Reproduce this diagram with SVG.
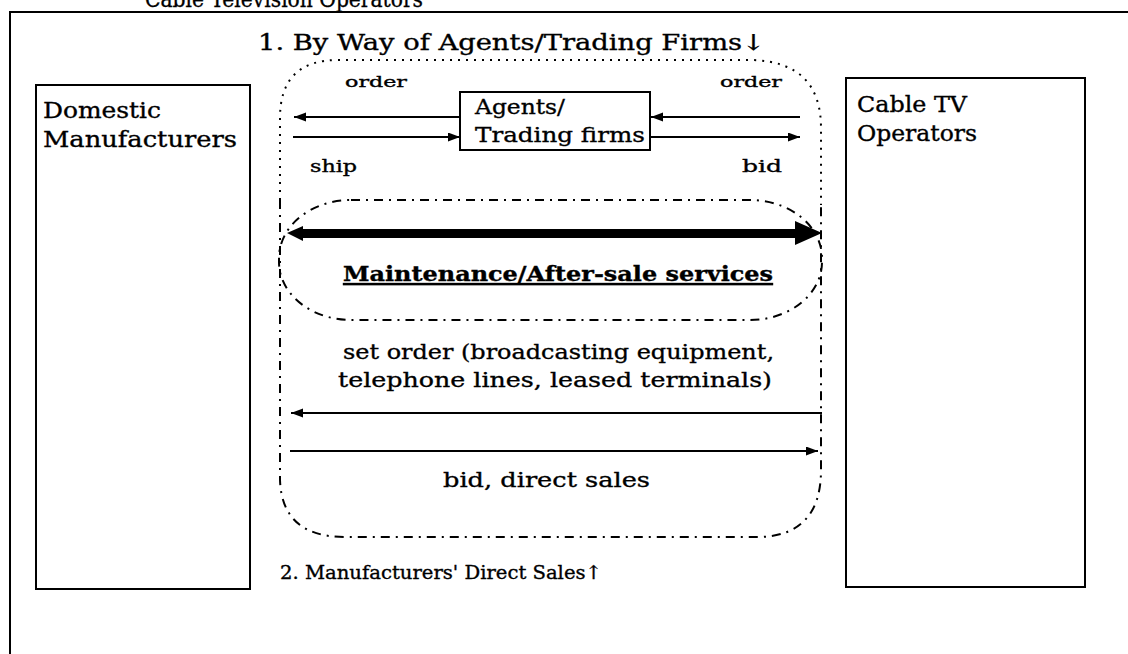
<svg xmlns="http://www.w3.org/2000/svg" width="1128" height="654" viewBox="0 0 1128 654">
  <style>
    .t { font-family: "DejaVu Serif", "Liberation Serif", serif; fill: #000; stroke: #000; stroke-width: 0.35; }
    .big { font-size: 21px; }
    .mid { font-size: 17px; }
    .sm { font-size: 15px; }
    .box { fill: #fff; stroke: #000; stroke-width: 2; }
    .ln { stroke: #000; stroke-width: 2; fill: none; }
    .dot { stroke: #000; stroke-width: 2; fill: none; stroke-dasharray: 2 6; }
    .dd { stroke: #000; stroke-width: 2; fill: none; stroke-dasharray: 9 6 2 6; }
  </style>
  <defs>
    <marker id="ah" markerUnits="userSpaceOnUse" markerWidth="13" markerHeight="10" refX="12" refY="4.5" orient="auto">
      <path d="M0,0 L12,4.5 L0,9 z" fill="#000"/>
    </marker>
  </defs>
  <rect width="1128" height="654" fill="#fff"/>

  <!-- outer frame, cut by the page -->
  <g id="frame">
    <text class="t" x="145" y="7" font-size="23" textLength="278" lengthAdjust="spacingAndGlyphs">Cable Television Operators</text>
    <path class="ln" d="M10,654 L10,12 L1128,12" stroke-width="2.5"/>
  </g>

  <!-- channel outlines -->
  <g id="channel-agents">
    <path class="dot" d="M280,200 L280,118 Q280,60 338,60 L752,60 Q821,62 821,128 L821,205"/>
    <text class="t" x="258" y="50" font-size="22" textLength="507" lengthAdjust="spacingAndGlyphs">1. By Way of Agents/Trading Firms↓</text>
  </g>
  <g id="channel-direct">
    <path class="dd" d="M280,200 L280,480 Q282,537 345,537 L760,537 Q821,535 821,470 L821,205"/>
    <text class="t" x="280" y="579" font-size="19" textLength="322" lengthAdjust="spacingAndGlyphs">2. Manufacturers' Direct Sales↑</text>
  </g>
  <g id="maintenance">
    <rect class="dd" x="279" y="200" width="543" height="120" rx="72" ry="58"/>
    <polygon points="287,233 303,226 303,229 795,229 795,221 822,233 795,245 795,238 303,238 303,241" fill="#000"/>
    <text class="t big" x="343" y="281" font-weight="bold" text-decoration="underline" textLength="430" lengthAdjust="spacingAndGlyphs">Maintenance/After-sale services</text>
  </g>

  <!-- nodes -->
  <g id="domestic-manufacturers">
    <rect class="box" x="36" y="85" width="214" height="504"/>
    <text class="t" x="43" y="118" font-size="22" textLength="118" lengthAdjust="spacingAndGlyphs">Domestic</text>
    <text class="t" x="43" y="147" font-size="22" textLength="194" lengthAdjust="spacingAndGlyphs">Manufacturers</text>
  </g>
  <g id="cable-tv-operators">
    <rect class="box" x="846" y="78" width="239" height="509"/>
    <text class="t" x="857" y="112" font-size="22" textLength="110" lengthAdjust="spacingAndGlyphs">Cable TV</text>
    <text class="t" x="857" y="141" font-size="22" textLength="120" lengthAdjust="spacingAndGlyphs">Operators</text>
  </g>
  <g id="agents">
    <rect class="box" x="460" y="92" width="190" height="58"/>
    <text class="t big" x="475" y="114" textLength="90" lengthAdjust="spacingAndGlyphs">Agents/</text>
    <text class="t big" x="475" y="142" textLength="170" lengthAdjust="spacingAndGlyphs">Trading firms</text>
  </g>

  <!-- connectors -->
  <g id="connectors">
    <line class="ln" x1="460" y1="117" x2="294" y2="117" marker-end="url(#ah)"/>
    <line class="ln" x1="293" y1="137" x2="460" y2="137" marker-end="url(#ah)"/>
    <line class="ln" x1="800" y1="117" x2="651" y2="117" marker-end="url(#ah)"/>
    <line class="ln" x1="651" y1="137" x2="800" y2="137" marker-end="url(#ah)"/>
    <line class="ln" x1="822" y1="413" x2="291" y2="413" marker-end="url(#ah)"/>
    <line class="ln" x1="290" y1="451" x2="818" y2="451" marker-end="url(#ah)"/>
  </g>

  <!-- connector labels -->
  <g id="labels">
    <text class="t sm" x="345" y="87" textLength="62" lengthAdjust="spacingAndGlyphs">order</text>
    <text class="t sm" x="720" y="87" textLength="62" lengthAdjust="spacingAndGlyphs">order</text>
    <text class="t mid" x="310" y="172" textLength="47" lengthAdjust="spacingAndGlyphs">ship</text>
    <text class="t mid" x="742" y="172" textLength="40" lengthAdjust="spacingAndGlyphs">bid</text>
    <text class="t big" x="343" y="359" textLength="431" lengthAdjust="spacingAndGlyphs">set order (broadcasting equipment,</text>
    <text class="t big" x="338" y="387" textLength="434" lengthAdjust="spacingAndGlyphs">telephone lines, leased terminals)</text>
    <text class="t big" x="443" y="487" textLength="207" lengthAdjust="spacingAndGlyphs">bid, direct sales</text>
  </g>
</svg>
